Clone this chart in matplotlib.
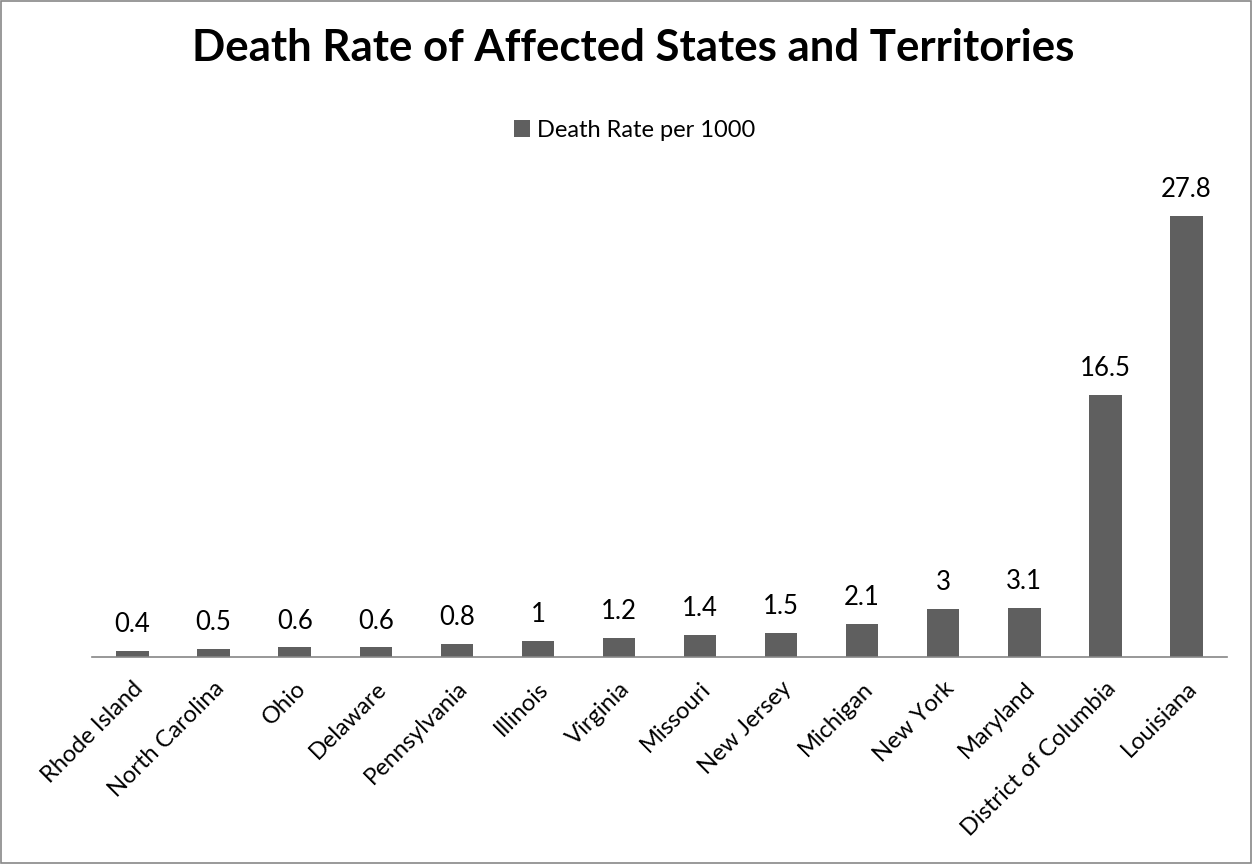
import matplotlib.pyplot as plt
import numpy as np

# data
states = ["Rhode Island", "North Carolina", "Ohio", "Delaware", "Pennsylvania",
          "Illinois", "Virginia", "Missouri", "New Jersey", "Michigan",
          "New York", "Maryland", "District of Columbia", "Louisiana"]
death_rate = [0.4, 0.5, 0.6, 0.6, 0.8, 1, 1.2, 1.4, 1.5, 2.1, 3, 3.1, 16.5, 27.8]
value_labels = ["0.4", "0.5", "0.6", "0.6", "0.8", "1", "1.2", "1.4", "1.5",
                "2.1", "3", "3.1", "16.5", "27.8"]

plt.rcParams['font.family'] = ['Lato', 'DejaVu Sans']

fig = plt.figure(figsize=(12.52, 8.64), dpi=100)
ax = fig.add_axes([0.0735, 0.2396, 0.9065, 0.551])

x = np.arange(len(states))
bars = ax.bar(x, death_rate, width=0.4, color="#5f5f5f", label="Death Rate per 1000")

#labels above the bars
for xi, val, txt in zip(x, death_rate, value_labels):
    ax.annotate(txt, (xi, val), textcoords="offset points", xytext=(0, 10),
                ha="center", va="bottom", fontsize=18.5)

ax.set_xlim(-0.5, len(states) - 0.5)
ax.set_ylim(0, 30)
ax.set_yticks([])
ax.set_xticks(x)
ax.set_xticklabels(states, rotation=45, ha="right", rotation_mode="anchor", fontsize=17)
ax.tick_params(axis="x", length=0, pad=15)
for side in ["top", "right", "left"]:
    ax.spines[side].set_visible(False)
ax.spines["bottom"].set_color("#868686")
ax.spines["bottom"].set_linewidth(1.2)

fig.text(0.506, 0.945, "Death Rate of Affected States and Territories",
         ha="center", va="center", fontsize=31.5, fontweight="bold")
fig.legend(handles=[bars], labels=["Death Rate per 1000"], loc="center",
           bbox_to_anchor=(0.507, 0.849), frameon=False, fontsize=17,
           handlelength=0.7, handleheight=0.7, handletextpad=0.3)

#thin frame around the whole picture
fig.patches.append(plt.Rectangle((0.0008, 0.001), 0.9984, 0.998, transform=fig.transFigure,
                                 fill=False, edgecolor="#888888", linewidth=1.2))

fig.savefig("out.png", dpi=100)
